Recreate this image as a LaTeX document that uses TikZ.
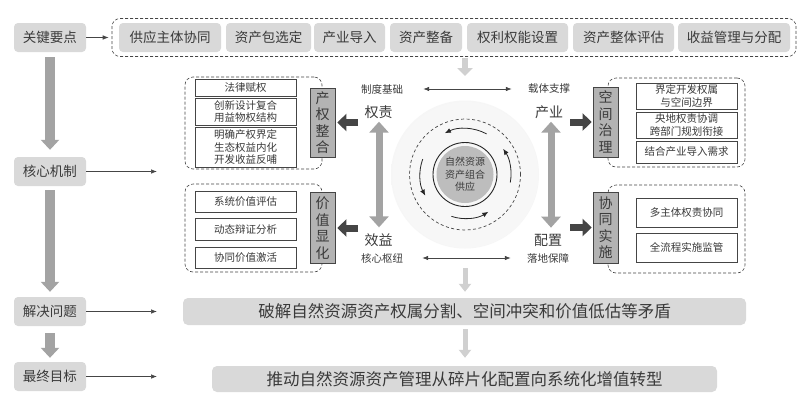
\documentclass[tikz,border=0pt]{standalone}
\usepackage{fontspec}
\setmainfont{Noto Sans CJK SC}
\usetikzlibrary{arrows.meta,calc}
\definecolor{boxgray}{HTML}{D9D9D9}
\definecolor{txt}{HTML}{3A3A3A}
\definecolor{thickgray}{HTML}{A3A3A3}
\definecolor{lightarrow}{HTML}{D0D0D0}
\definecolor{darkarrow}{HTML}{454545}
\definecolor{labelgray}{HTML}{B3B3B3}
\definecolor{coregray}{HTML}{BDBDBD}
\definecolor{shA}{HTML}{F7F7F7}
\definecolor{shB}{HTML}{EBEBEB}
\definecolor{shC}{HTML}{E3E3E3}
\definecolor{shD}{HTML}{EAEAEA}
\pgfdeclareradialshading{discshade}{\pgfpoint{0bp}{0bp}}{color(0bp)=(shA); color(24bp)=(shA); color(38bp)=(shB); color(47bp)=(shC); color(50bp)=(shD)}
\tikzset{
  every node/.style={text=txt},
  graybox/.style={fill=boxgray, rounded corners=4pt, minimum height=29pt, inner sep=0pt, font=\fontsize{13.5}{15}\selectfont},
  barbox/.style={fill=boxgray, rounded corners=5pt, inner sep=0pt, font=\fontsize{16.5}{18}\selectfont},
  wbox/.style={draw=darkarrow, line width=0.7pt, fill=white, minimum width=101pt, inner sep=0pt, align=center, font=\fontsize{10.5}{12.5}\selectfont},
  vlabel/.style={draw=darkarrow, line width=0.7pt, fill=labelgray, minimum width=25pt, inner sep=0pt, align=center, font=\fontsize{14}{16.5}\selectfont},
  dashbox/.style={draw=darkarrow, dash pattern=on 3pt off 2pt, rounded corners=8pt, line width=0.6pt, inner sep=0pt},
  thinarrow/.style={-{Latex[length=6pt,width=4.5pt]}, line width=0.6pt, draw=darkarrow},
  harrow/.style={{Latex[length=6pt,width=4.5pt]}-{Latex[length=6pt,width=4.5pt]}, line width=0.7pt, draw=darkarrow},
  bigarrow/.style={-{Triangle[length=10pt,width=18pt]}, line width=10pt, draw=thickgray},
  vdarrow/.style={{Triangle[length=11pt,width=19pt]}-{Triangle[length=11pt,width=19pt]}, line width=7pt, draw=thickgray},
  darrow/.style={-{Triangle[length=9pt,width=17pt]}, line width=7pt, draw=darkarrow},
  lgarrow/.style={-{Triangle[length=8pt,width=15pt]}, line width=6pt, draw=lightarrow},
  lgarrowsm/.style={-{Triangle[length=8pt,width=12pt]}, line width=5pt, draw=lightarrow},
  arcarrow/.style={-{Latex[length=6pt,width=5pt]}, line width=0.8pt, draw=black!85},
  smalllab/.style={inner sep=0pt, font=\fontsize{10.5}{12}\selectfont},
  midlab/.style={inner sep=0pt, font=\fontsize{14}{16}\selectfont}
}
\begin{document}
\begin{tikzpicture}[x=1pt,y=-1pt]
\useasboundingbox[fill=white] (0,0) rectangle (806,416);

% ---------- left column ----------
\node[graybox, minimum width=72pt] (k1) at (50,37.5) {关键要点};
\node[graybox, minimum width=72pt] (k2) at (50,171.5) {核心机制};
\node[graybox, minimum width=72pt] (k3) at (50,311.5) {解决问题};
\node[graybox, minimum width=72pt] (k4) at (50,376.5) {最终目标};
\draw[bigarrow, shorten <=5pt, shorten >=7pt] (k1.south) -- (k2.north);
\draw[bigarrow, shorten <=4pt, shorten >=5pt] (k2.south) -- (k3.north);
\draw[bigarrow, shorten <=7pt, shorten >=4pt] (k3.south) -- (k4.north);

% ---------- top row ----------
\node[dashbox, minimum width=684pt, minimum height=38pt] (top) at (454,37.5) {};
\node[graybox, minimum width=102pt] (t1) at (170,37.5) {供应主体协同};
\node[graybox, minimum width=85pt] (t2) at (268.5,37.5) {资产包选定};
\node[graybox, minimum width=71pt] (t3) at (349.5,37.5) {产业导入};
\node[graybox, minimum width=72pt] (t4) at (426,37.5) {资产整备};
\node[graybox, minimum width=101pt] (t5) at (517.5,37.5) {权利权能设置};
\node[graybox, minimum width=101pt] (t6) at (623.5,37.5) {资产整体评估};
\node[graybox, minimum width=112pt] (t7) at (734,37.5) {收益管理与分配};
\draw[thinarrow, shorten >=3pt] (k1.east) -- (top.west |- k1.east);

\coordinate (c2) at (157,171.5);
\coordinate (c3) at (157,311.5);
\coordinate (c4) at (157,376.5);
\draw[thinarrow] (k2.east) -- (c2);
\draw[thinarrow] (k3.east) -- (c3);
\draw[thinarrow] (k4.east) -- (c4);

% ---------- center circle ----------
\coordinate (O) at (465,174.5);
\shade[shading=discshade] (O) circle (74pt);
\draw[darkarrow, line width=0.7pt, dash pattern=on 3pt off 2.5pt] (O) circle (55.5pt);
\fill[coregray] (O) circle (28.5pt);
\draw[black!85, line width=0.9pt] (O) circle (32pt);
\node[align=center, inner sep=0pt, font=\fontsize{10}{12.5}\selectfont] (core) at (O) {自然资源\\资产组合\\供应};
\begin{scope}[shift={(O)}]
  \draw[arcarrow] (62:46pt) arc[start angle=62, end angle=116, radius=46pt];
  \draw[arcarrow] (-10:46pt) arc[start angle=-10, end angle=34, radius=46pt];
  \draw[arcarrow] (160:45pt) arc[start angle=160, end angle=208, radius=45pt];
  \draw[arcarrow] (252:44pt) arc[start angle=252, end angle=302, radius=44pt];
\end{scope}
\coordinate (c0t) at (465,76);
\draw[lgarrow, shorten <=1pt] (top.south -| c0t) -- (c0t);

% ---------- center labels ----------
\node[smalllab] (zd) at (382,89) {制度基础};
\node[midlab] (qz) at (378.5,112) {权责};
\node[smalllab] (zc) at (549,89) {载体支撑};
\node[midlab] (cy) at (549,112) {产业};
\node[midlab] (xy) at (378.5,240) {效益};
\node[smalllab] (hx) at (382,258) {核心枢纽};
\node[midlab] (pz) at (548,240) {配置};
\node[smalllab] (ld) at (548,258) {落地保障};
\draw[harrow] ([xshift=20pt]zd.east) -- ([xshift=-16pt]zc.west);
\draw[harrow] ([xshift=19pt]hx.east) -- ([xshift=-16pt]ld.west);
\draw[vdarrow] ([xshift=0.5pt,yshift=-3pt]qz.south) -- ([xshift=0.5pt,yshift=6pt]xy.north);
\draw[vdarrow] ([xshift=2pt,yshift=-3pt]cy.south) -- ([xshift=3pt,yshift=6pt]pz.north);

% ---------- left groups ----------
\node[dashbox, minimum width=137pt, minimum height=92pt] (gLT) at (253.5,123) {};
\node[dashbox, minimum width=137pt, minimum height=88pt] (gLB) at (253.5,228) {};
\node[wbox, minimum height=17pt] (L1) at (245.5,87.5) {法律赋权};
\node[wbox, minimum height=27pt] (L2) at (245.5,111.5) {创新设计复合\\用益物权结构};
\node[wbox, minimum height=40pt] (L3) at (245.5,147) {明确产权界定\\生态权益内化\\开发收益反哺};
\node[wbox, minimum height=21pt] (B1) at (245.5,201.5) {系统价值评估};
\node[wbox, minimum height=22pt] (B2) at (245.5,229) {动态辩证分析};
\node[wbox, minimum height=21pt] (B3) at (245.5,257.5) {协同价值激活};
\node[vlabel, minimum height=69pt] (lab1) at (322.5,122.5) {产\\权\\整\\合};
\node[vlabel, minimum height=71pt] (lab2) at (322.5,228) {价\\值\\显\\化};

% ---------- right groups ----------
\node[dashbox, minimum width=137pt, minimum height=89pt] (gRT) at (676.5,122.5) {};
\node[dashbox, minimum width=137pt, minimum height=88pt] (gRB) at (676.5,229) {};
\node[wbox, minimum height=26pt] (R1) at (686.5,96) {界定开发权属\\与空间边界};
\node[wbox, minimum height=26pt] (R2) at (686.5,125) {央地权责协调\\跨部门规划衔接};
\node[wbox, minimum height=22pt] (R3) at (686.5,152) {结合产业导入需求};
\node[wbox, minimum height=29pt] (R4) at (686.5,212.5) {多主体权责协同};
\node[wbox, minimum height=29pt] (R5) at (686.5,247.5) {全流程实施监管};
\node[vlabel, minimum height=70pt] (lab3) at (605.5,122) {空\\间\\治\\理};
\node[vlabel, minimum height=71pt] (lab4) at (605.5,227.5) {协\\同\\实\\施};

% ---------- dark arrows ----------
\coordinate (a1) at (358,122.5);
\coordinate (a2) at (358,228);
\coordinate (a3) at (570,122);
\coordinate (a4) at (570,227.5);
\draw[darrow, shorten >=2pt] (a1) -- (lab1);
\draw[darrow, shorten >=2pt] (a2) -- (lab2);
\draw[darrow, shorten >=1pt] (a3) -- (lab3);
\draw[darrow, shorten >=1pt] (a4) -- (lab4);

% ---------- bottom bars ----------
\node[barbox, minimum width=563pt, minimum height=27pt] (bar1) at (464.5,311.5) {破解自然资源资产权属分割、空间冲突和价值低估等矛盾};
\node[barbox, minimum width=505pt, minimum height=26pt] (bar2) at (464.5,379) {推动自然资源资产管理从碎片化配置向系统化增值转型};
\coordinate (b0) at (465,268);
\draw[lgarrowsm, shorten >=6pt] (b0) -- (b0 |- bar1.north);
\draw[lgarrowsm, shorten <=4pt, shorten >=8pt] (b0 |- bar1.south) -- (b0 |- bar2.north);
\end{tikzpicture}
\end{document}
